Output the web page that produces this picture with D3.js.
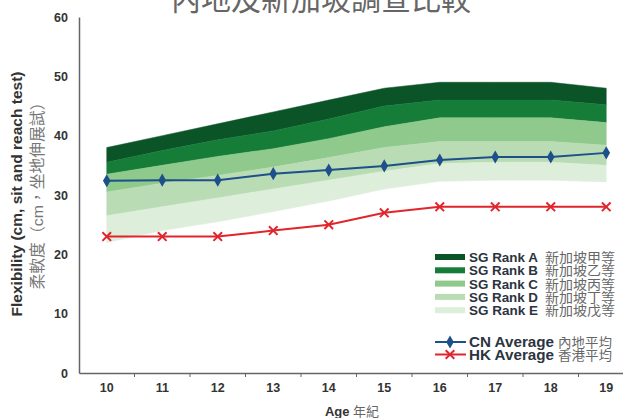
<!DOCTYPE html>
<html>
<head>
<meta charset="utf-8">
<script src="https://cdn.jsdelivr.net/npm/d3@7"></script>
<style>
  body { margin: 0; background: #fff; }
  svg { display: block; font-family: "Liberation Sans", Arial, "Noto Sans CJK TC", sans-serif; }
</style>
</head>
<body>
<svg width="623" height="418"></svg>
<script>
// ages on x axis
var ages = [10, 11, 12, 13, 14, 15, 16, 17, 18, 19];
var yTicks = [0, 10, 20, 30, 40, 50, 60];

// SG rank band edges (top of A down to bottom of E)
var edgeTopA = [38, 40, 42, 44, 46, 48, 49, 49, 49, 48];
var edgeAB   = [35.5, 37.5, 39.3, 40.8, 42.8, 45, 46, 46, 46, 45.2];
var edgeBC   = [33.5, 35, 36.5, 37.8, 39.5, 41.5, 43, 43, 43, 42.2];
var edgeCD   = [30.5, 32, 33.3, 34.7, 36.3, 38, 39, 39, 39, 38.4];
var edgeDE   = [26.5, 28, 29.5, 31, 32.5, 34, 35.3, 35.5, 35.5, 35];
var edgeBotE = [22, 24, 25.5, 27.2, 29, 31, 32.3, 32.5, 32.5, 32.2];

var cnAverage = [32.4, 32.5, 32.5, 33.6, 34.2, 34.9, 35.9, 36.4, 36.4, 37.1];
var hkAverage = [23, 23, 23, 24, 25, 27, 28, 28, 28, 28];

var rankNames = ["SG Rank A", "SG Rank B", "SG Rank C", "SG Rank D", "SG Rank E"];
var rankZh = ["新加坡甲等", "新加坡乙等", "新加坡丙等", "新加坡丁等", "新加坡戊等"];
var rankColors = ["#0b5428", "#167d39", "#8fc98c", "#badcb5", "#ddeeda"];

var svg = d3.select("svg");
var margin = { top: 17, left: 79, bottom: 45 };
var plotBottom = 418 - margin.bottom; // 373

var x = d3.scaleBand().domain(ages).range([margin.left, margin.left + 555]).padding(0);
var y = d3.scaleLinear().domain([0, 60]).range([plotBottom, margin.top]);
var cx = function(a) { return x(a) + x.bandwidth() / 2; };

// title (partly cut at top, as in the original)
svg.append("text")
    .attr("x", 321).attr("y", 10)
    .attr("text-anchor", "middle")
    .style("font-size", "30px")
    .style("fill", "#666")
    .text("內地及新加坡調查比較");

// bands
var edges = [edgeTopA, edgeAB, edgeBC, edgeCD, edgeDE, edgeBotE];
var area = d3.area()
    .x(function(d) { return cx(d.age); })
    .y0(function(d) { return y(d.lo); })
    .y1(function(d) { return y(d.hi); });

rankNames.forEach(function(name, i) {
    var pts = ages.map(function(a, j) {
        return { age: a, hi: edges[i][j], lo: edges[i + 1][j] };
    });
    svg.append("path")
        .attr("d", area(pts))
        .style("fill", rankColors[i])
        .style("stroke", rankColors[i])
        .style("stroke-width", 0.5);
});

// axes
var yAxis = svg.append("g")
    .attr("transform", "translate(" + margin.left + ",0)")
    .call(d3.axisLeft(y).tickValues(yTicks).tickSize(0).tickPadding(11));
yAxis.select(".domain").attr("stroke", "#666").attr("stroke-width", 1.5);
yAxis.selectAll("text").style("font-size", "12.5px").style("font-weight", "bold").style("fill", "#333");

var xAxis = svg.append("g")
    .attr("transform", "translate(0," + plotBottom + ")")
    .call(d3.axisBottom(x).tickSize(0).tickPadding(10));
xAxis.select(".domain").attr("stroke", "#666").attr("stroke-width", 1.5);
xAxis.selectAll("text").style("font-size", "12.5px").style("font-weight", "bold").style("fill", "#333");
// tick marks sit on the band edges
xAxis.selectAll(".edge")
    .data(ages.slice(1))
    .enter().append("line")
    .attr("x1", function(a) { return x(a); })
    .attr("x2", function(a) { return x(a); })
    .attr("y1", 0).attr("y2", 4)
    .attr("stroke", "#666");

svg.append("text")
    .attr("x", 352).attr("y", 416)
    .attr("text-anchor", "middle")
    .style("font-size", "13px")
    .style("fill", "#333")
    .html('<tspan font-weight="bold">Age</tspan> <tspan fill="#666">年紀</tspan>');

// y titles
svg.append("text")
    .attr("transform", "translate(22,194) rotate(-90)")
    .attr("text-anchor", "middle")
    .attr("textLength", 245).attr("lengthAdjust", "spacingAndGlyphs")
    .style("font-size", "14px")
    .style("font-weight", "bold")
    .style("fill", "#333")
    .text("Flexibility (cm, sit and reach test)");
svg.append("text")
    .attr("transform", "translate(43,192) rotate(-90)")
    .attr("text-anchor", "middle")
    .attr("textLength", 195).attr("lengthAdjust", "spacingAndGlyphs")
    .style("font-size", "15.5px")
    .style("fill", "#777")
    .text("柔軟度（cm，坐地伸展試）");

// average lines
var line = d3.line()
    .x(function(d, i) { return cx(ages[i]); })
    .y(function(d) { return y(d); });

svg.append("path")
    .attr("d", line(cnAverage))
    .style("fill", "none").style("stroke", "#1d4f8a").style("stroke-width", 2);
svg.selectAll(".cn")
    .data(cnAverage).enter().append("path")
    .attr("d", d3.symbol().type(d3.symbolDiamond).size(50))
    .attr("transform", function(d, i) { return "translate(" + cx(ages[i]) + "," + y(d) + ")"; })
    .style("fill", "#1d4f8a");

svg.append("path")
    .attr("d", line(hkAverage))
    .style("fill", "none").style("stroke", "#e0262c").style("stroke-width", 2);
svg.selectAll(".hk")
    .data(hkAverage).enter().append("path")
    .attr("d", d3.symbol().type(d3.symbolTimes).size(50))
    .attr("transform", function(d, i) { return "translate(" + cx(ages[i]) + "," + y(d) + ")"; })
    .style("fill", "none").style("stroke", "#e0262c").style("stroke-width", 2);

// legend
var lg = svg.append("g").attr("transform", "translate(435,257)");
rankNames.forEach(function(name, i) {
    var row = lg.append("g").attr("transform", "translate(0," + (i * 13.3) + ")");
    row.append("rect").attr("x", 0).attr("y", -3).attr("width", 30).attr("height", 6)
        .style("fill", rankColors[i]);
    row.append("text").attr("x", 34).attr("y", 5)
        .attr("textLength", 69).attr("lengthAdjust", "spacingAndGlyphs")
        .style("font-size", "13.5px").style("font-weight", "bold").style("fill", "#2b3440")
        .text(name);
    row.append("text").attr("x", 110).attr("y", 5)
        .attr("textLength", 70).attr("lengthAdjust", "spacingAndGlyphs")
        .style("font-size", "13px").style("fill", "#666")
        .text(rankZh[i]);
});

var cnRow = lg.append("g").attr("transform", "translate(0,85)");
cnRow.append("line").attr("x1", 0).attr("x2", 31).attr("stroke", "#1d4f8a").attr("stroke-width", 2);
cnRow.append("path").attr("d", d3.symbol().type(d3.symbolDiamond).size(50))
    .attr("transform", "translate(15,0)").style("fill", "#1d4f8a");
cnRow.append("text").attr("x", 34).attr("y", 5)
    .attr("textLength", 85).attr("lengthAdjust", "spacingAndGlyphs")
    .style("font-size", "14px").style("font-weight", "bold").style("fill", "#2b3440")
    .text("CN Average");
cnRow.append("text").attr("x", 123).attr("y", 5)
    .attr("textLength", 54).attr("lengthAdjust", "spacingAndGlyphs")
    .style("font-size", "13px").style("fill", "#666")
    .text("內地平均");

var hkRow = lg.append("g").attr("transform", "translate(0,97.5)");
hkRow.append("line").attr("x1", 0).attr("x2", 31).attr("stroke", "#e0262c").attr("stroke-width", 2);
hkRow.append("path").attr("d", d3.symbol().type(d3.symbolTimes).size(50))
    .attr("transform", "translate(15,0)").style("fill", "none").style("stroke", "#e0262c").style("stroke-width", 2);
hkRow.append("text").attr("x", 34).attr("y", 5)
    .attr("textLength", 85).attr("lengthAdjust", "spacingAndGlyphs")
    .style("font-size", "14px").style("font-weight", "bold").style("fill", "#2b3440")
    .text("HK Average");
hkRow.append("text").attr("x", 123).attr("y", 5)
    .attr("textLength", 54).attr("lengthAdjust", "spacingAndGlyphs")
    .style("font-size", "13px").style("fill", "#666")
    .text("香港平均");
</script>
</body>
</html>
